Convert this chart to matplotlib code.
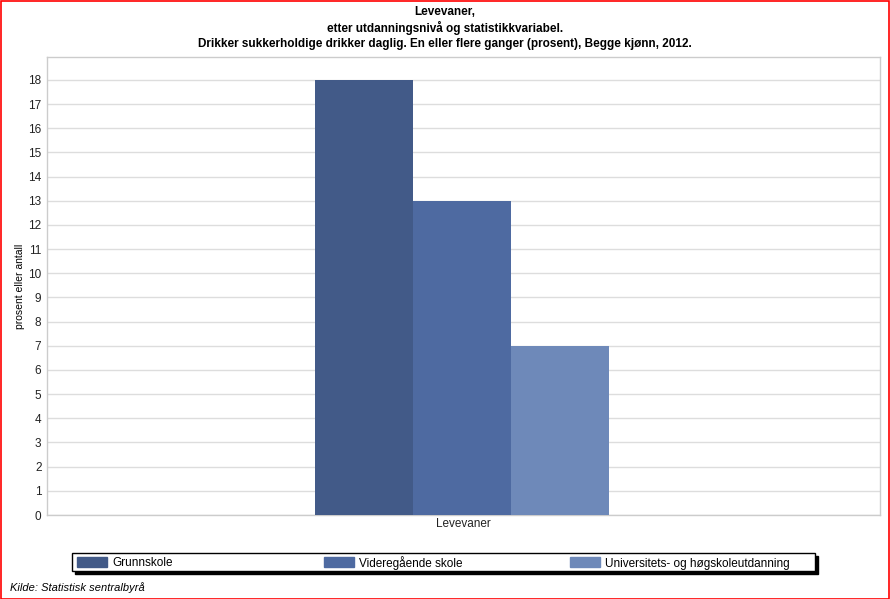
import numpy as np
import matplotlib.pyplot as plt
from matplotlib.patches import Rectangle

categories = ['Levevaner']
series = ['Grunnskole', 'Videregående skole', 'Universitets- og høgskoleutdanning']
values = [18, 13, 7]
colors = ['#425A88', '#4E6AA1', '#6E89B9']

plt.rcParams['font.family'] = ['Liberation Sans', 'DejaVu Sans']

W, H = 890, 599
fig = plt.figure(figsize=(W / 100, H / 100), dpi=100)

# plot area in pixel coordinates
left, right, top, bottom = 47, 880, 57, 515
ax = fig.add_axes([left / W, 1 - bottom / H, (right - left) / W, (bottom - top) / H])

bw = 98 / (right - left)
x0 = -2 / (right - left)
for i, (name, v) in enumerate(zip(series, values)):
    ax.bar(x0 + (i - 1) * bw, v, width=bw, color=colors[i], label=name, zorder=3)

ax.set_xlim(-0.5, 0.5)
ax.set_ylim(0, 18.95)
ax.set_yticks(range(0, 19))
ax.set_xticks([0])
ax.set_xticklabels(categories)
ax.tick_params(axis='both', length=0, labelsize=8.5, colors='#222222')
ax.tick_params(axis='y', pad=4)
ax.tick_params(axis='x', pad=2)
ax.yaxis.grid(True, color='#dddddd', linewidth=1, zorder=0)
for s in ax.spines.values():
    s.set_color('#cccccc')
    s.set_linewidth(1)
ax.set_ylabel('prosent eller antall', fontsize=7.5, labelpad=2)

fig.text(0.5, 1 - 12 / H, 'Levevaner,', ha='center', va='center', fontsize=8.5, fontweight='bold')
fig.text(0.5, 1 - 28 / H, 'etter utdanningsnivå og statistikkvariabel.', ha='center', va='center',
         fontsize=8.5, fontweight='bold')
fig.text(0.5, 1 - 44 / H, 'Drikker sukkerholdige drikker daglig. En eller flere ganger (prosent), Begge kjønn, 2012.',
         ha='center', va='center', fontsize=8.5, fontweight='bold')

# legend box with shadow
lx0, lx1, ly0, ly1 = 72, 815, 553, 571
fig.patches.append(Rectangle(((lx0 + 3) / W, 1 - (ly1 + 3) / H), (lx1 - lx0) / W, (ly1 - ly0) / H,
                             transform=fig.transFigure, color='black', zorder=1))
fig.patches.append(Rectangle((lx0 / W, 1 - ly1 / H), (lx1 - lx0) / W, (ly1 - ly0) / H,
                             transform=fig.transFigure, facecolor='white', edgecolor='black',
                             linewidth=1, zorder=2))
leg_x = [77, 324, 570]
for i, name in enumerate(series):
    fig.patches.append(Rectangle((leg_x[i] / W, 1 - 567 / H), 30 / W, 10 / H,
                                 transform=fig.transFigure, color=colors[i], zorder=3))
    fig.text((leg_x[i] + 35) / W, 1 - 566.5 / H, name, ha='left', va='baseline', fontsize=8.5, zorder=4)

fig.text(10 / W, 1 - 588 / H, 'Kilde: Statistisk sentralbyrå', ha='left', va='center',
         fontsize=8, style='italic')

# red outer border
fig.patches.append(Rectangle((0.5 / W, 0.5 / H), 1 - 1.5 / W, 1 - 1.5 / H, transform=fig.transFigure,
                             fill=False, edgecolor='red', linewidth=1.2, zorder=5))

fig.savefig('out.png', dpi=100)
